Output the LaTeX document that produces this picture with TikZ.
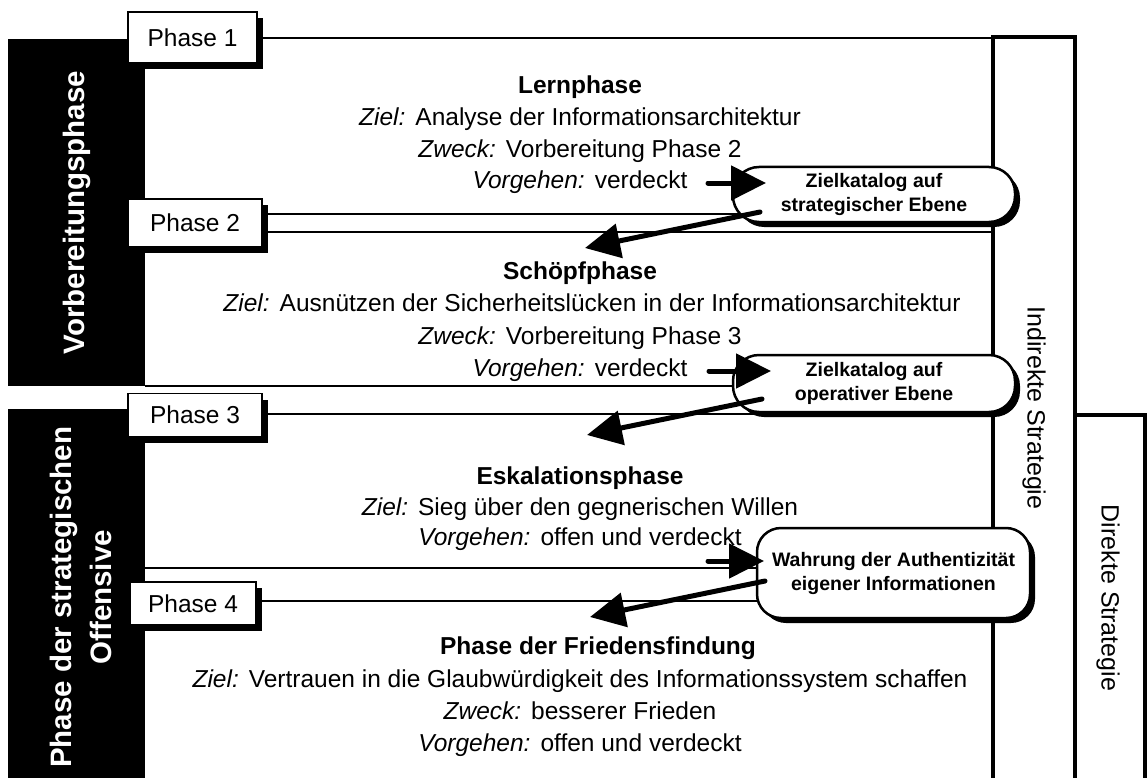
\documentclass[tikz,border=0pt]{standalone}
\usepackage{fontspec}
\setmainfont{Liberation Sans}
\usetikzlibrary{arrows.meta,shadows}
\begin{document}
\begin{tikzpicture}[x=1pt,y=-1pt,
  txt/.style={font=\fontsize{24.5}{29}\selectfont, inner sep=0pt, anchor=base},
  ttl/.style={font=\fontsize{24.5}{29}\selectfont\bfseries, inner sep=0pt, anchor=base},
  phasebox/.style={draw=black, line width=1.2pt, fill=white, inner sep=0pt,
    font=\fontsize{24.5}{29}\selectfont,
    drop shadow={shadow xshift=6pt, shadow yshift=-6pt, fill=black, opacity=1}},
  goalbox/.style={draw=black, line width=2.5pt, fill=white, rounded corners=26pt,
    inner sep=0pt, align=center, font=\fontsize{19.5}{24}\selectfont\bfseries,
    drop shadow={shadow xshift=5pt, shadow yshift=-5pt, fill=black, opacity=1}},
  sepline/.style={line width=2pt},
  stratline/.style={line width=4.5pt, line join=miter},
  arr/.style={line width=5pt, line cap=round, -{Triangle[length=35pt,width=34pt]}},
  blk/.style={fill=black, inner sep=0pt, anchor=north west},
  vtxt/.style={text=white, font=\fontsize{29.5}{40}\selectfont\bfseries, rotate=90, align=center},
  stxt/.style={font=\fontsize{25}{30}\selectfont, rotate=-90, inner sep=0pt},
]
\useasboundingbox (0,0) rectangle (1147,778);

% black side blocks
\node[blk, minimum width=137pt, minimum height=347pt] (vb1) at (8,39) {};
\node[blk, minimum width=137pt, minimum height=372pt] (vb2) at (8,409) {};

% strategy frames
\coordinate (ITL) at (993,37);
\coordinate (ITR) at (1075,37);
\coordinate (IBL) at (993,782);
\coordinate (IBR) at (1075,782);
\coordinate (DTL) at (1075,415);
\coordinate (DTR) at (1145,415);
\coordinate (DBR) at (1145,782);
\draw[stratline] (IBL) -- (ITL) -- (ITR) -- (IBR);
\draw[stratline] (DTL) -- (DTR) -- (DBR);

% positions of boxes
\path (192.5,37.5) coordinate (p1c);
\path (195,223) coordinate (p2c);
\path (195,415) coordinate (p3c);
\path (193,603.5) coordinate (p4c);
\path (874,194.5) coordinate (g1c);
\path (874,383.5) coordinate (g2c);
\path (893.5,573) coordinate (g3c);

% separator lines
\draw[sepline] (p1c |- 0,38.5) -- (ITL |- 0,38.5);
\draw[sepline] (p2c |- 0,214) -- (g1c |- 0,214);
\draw[sepline] (p2c |- 0,232) -- (ITL |- 0,232);
\draw[sepline] (vb1.south east) -- (g1c |- vb1.south east);
\draw[sepline] (p3c |- 0,414) -- (ITL |- 0,414);
\draw[sepline] (vb2.east |- 0,568) -- (g3c |- 0,568);
\draw[sepline] (p4c |- 0,601) -- (g3c |- 0,601);

% goal boxes
\node[goalbox, minimum width=282pt, minimum height=55pt] (g1) at (g1c) {Zielkatalog auf\\strategischer Ebene};
\node[goalbox, minimum width=282pt, minimum height=57pt] (g2) at (g2c) {Zielkatalog auf\\operativer Ebene};
\node[goalbox, minimum width=273pt, minimum height=90pt, rounded corners=24pt] (g3) at (g3c) {Wahrung der Authentizität\\eigener Informationen};

% phase boxes
\node[phasebox, minimum width=129pt, minimum height=51pt] (p1) at (p1c) {Phase 1};
\node[phasebox, minimum width=134pt, minimum height=48pt] (p2) at (p2c) {Phase 2};
\node[phasebox, minimum width=134pt, minimum height=43pt] (p3) at (p3c) {Phase 3};
\node[phasebox, minimum width=126pt, minimum height=43pt] (p4) at (p4c) {Phase 4};

% vertical labels
\node[vtxt] (vl1) at (vb1.center) {Vorbereitungsphase};
\node[vtxt] (vl2) at ([xshift=4pt,yshift=-2pt]vb2.center) {Phase der strategischen\\Offensive};
\node[stxt] (sl1) at (1034,408) {Indirekte Strategie};
\node[stxt] (sl2) at (1108,598) {Direkte Strategie};

% phase texts
\node[ttl] (t1) at (580,94) {Lernphase};
\node[txt] (z1) at (580,126) {\textit{Ziel:}\hspace{10pt}Analyse der Informationsarchitektur};
\node[txt] (w1) at (580,158) {\textit{Zweck:}\hspace{10pt}Vorbereitung Phase 2};
\node[txt] (v1) at (580,189) {\textit{Vorgehen:}\hspace{10pt}verdeckt};

\node[ttl] (t2) at (580,279) {Schöpfphase};
\node[txt] (z2) at (592,311) {\textit{Ziel:}\hspace{10pt}Ausnützen der Sicherheitslücken in der Informationsarchitektur};
\node[txt] (w2) at (580,344) {\textit{Zweck:}\hspace{10pt}Vorbereitung Phase 3};
\node[txt] (v2) at (580,376) {\textit{Vorgehen:}\hspace{10pt}verdeckt};

\node[ttl] (t3) at (580,484) {Eskalationsphase};
\node[txt] (z3) at (580,515) {\textit{Ziel:}\hspace{10pt}Sieg über den gegnerischen Willen};
\node[txt] (v3) at (580,545) {\textit{Vorgehen:}\hspace{10pt}offen und verdeckt};

\node[ttl] (t4) at (598,654) {Phase der Friedensfindung};
\node[txt] (z4) at (580,687) {\textit{Ziel:}\hspace{10pt}Vertrauen in die Glaubwürdigkeit des Informationssystem schaffen};
\node[txt] (w4) at (580,719) {\textit{Zweck:}\hspace{10pt}besserer Frieden};
\node[txt] (v4) at (580,751) {\textit{Vorgehen:}\hspace{10pt}offen und verdeckt};

% arrows
\coordinate (a1s) at (708,183);
\coordinate (a1e) at (766,183);
\coordinate (a2s) at (760,212);
\coordinate (a2e) at (585,248);
\coordinate (a3s) at (709,371);
\coordinate (a3e) at (771,371);
\coordinate (a4s) at (762,399);
\coordinate (a4e) at (587,435);
\coordinate (a5s) at (708,561);
\coordinate (a5e) at (764,561);
\coordinate (a6s) at (765,581);
\coordinate (a6e) at (590,617);
\draw[arr] (a1s) -- (a1e);
\draw[arr] (a2s) -- (a2e);
\draw[arr] (a3s) -- (a3e);
\draw[arr] (a4s) -- (a4e);
\draw[arr] (a5s) -- (a5e);
\draw[arr] (a6s) -- (a6e);
\end{tikzpicture}
\end{document}
